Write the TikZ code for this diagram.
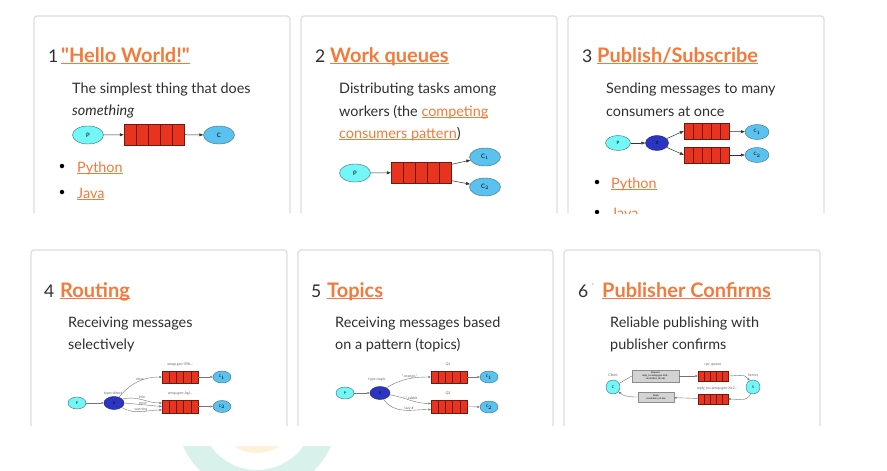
\documentclass[tikz,border=0pt]{standalone}
\usepackage{fontspec}
\setmainfont{Lato}
\usepackage{xcolor}
\definecolor{cText}{HTML}{2E2E2E}
\definecolor{cHead}{HTML}{F26B21}
\definecolor{cLink}{HTML}{F27A3A}
\definecolor{cCard}{HTML}{DDDDDD}
\definecolor{cQueue}{HTML}{E8341F}
\definecolor{cQueueLine}{HTML}{6E1A12}
\definecolor{cProd}{HTML}{72F6F6}
\definecolor{cCons}{HTML}{5BC2F0}
\definecolor{cExch}{HTML}{2B35C2}
\definecolor{cNodeLine}{HTML}{3A6E80}
\definecolor{cMsg}{HTML}{D3D3D3}
\definecolor{cWmTeal}{HTML}{D8F1EB}
\definecolor{cWmSun}{HTML}{FDF1D9}
\usepackage{tikz}
\usetikzlibrary{positioning,arrows.meta,shapes.geometric,calc}
% underlined link text, rule 2pt under the baseline
\newsavebox\lnkbox
\newcommand\lnk[1]{\textcolor{cLink}{\sbox\lnkbox{#1}\rlap{\rule[-2pt]{\wd\lnkbox}{1.2pt}}\usebox\lnkbox}}
\tikzset{
  card/.style={draw=cCard,line width=1.2pt,rounded corners=3pt},
  num/.style={anchor=base west,inner sep=0pt,text=cText,font=\fontsize{17.5}{20}\selectfont},
  head/.style={anchor=base west,inner sep=0pt,font=\fontsize{20}{24}\selectfont\bfseries},
  desc/.style={anchor=base west,inner sep=0pt,text=cText,font=\fontsize{14.4}{17}\selectfont},
  bul/.style={circle,fill=black,inner sep=0pt,minimum size=4.5pt},
  % tutorial diagrams: producer / consumer / exchange / queue
  prod/.style={ellipse,draw=cNodeLine,fill=cProd,inner sep=0pt},
  cons/.style={ellipse,draw=cNodeLine,fill=cCons,inner sep=0pt},
  exch/.style={ellipse,draw=cExch!60!black,fill=cExch,inner sep=0pt},
  oval-l/.style={minimum width=31,minimum height=18,font=\fontsize{6}{6}\selectfont},
  oval-m/.style={minimum width=25,minimum height=15,font=\fontsize{4.5}{5}\selectfont},
  oval-s/.style={minimum width=18,minimum height=12,font=\fontsize{3.5}{4}\selectfont},
  queue/.style={draw=cQueueLine,fill=cQueue,inner sep=0pt,path picture={
      \foreach \k in {0.2,0.4,0.6,0.8}
        \draw[cQueueLine] ($(path picture bounding box.south west)!\k!(path picture bounding box.south east)$)
          -- ($(path picture bounding box.north west)!\k!(path picture bounding box.north east)$);}},
  flow/.style={-{Triangle[length=4pt,width=3pt]},draw=black!80,line width=0.5pt},
  flow-s/.style={-{Triangle[length=2.5pt,width=2pt]},draw=black!55,line width=0.4pt},
  lbl/.style={inner sep=0.4pt,text=black!60,font=\fontsize{3.6}{4}\selectfont},
  msg/.style={draw=black!45,fill=cMsg,inner sep=0.8pt,align=center,font=\fontsize{2.4}{2.9}\selectfont},
}
\begin{document}
\begin{tikzpicture}[x=1pt,y=-1pt]
\useasboundingbox (0,0) rectangle (887,471);
\begin{scope}
  \clip (0,446) rectangle (887,471);
  \fill[cWmTeal,even odd rule] (257,413) circle[radius=81] (257,413) circle[radius=57];
  \fill[cWmSun] (257,413) circle[radius=40];
\end{scope}

\draw[card] (34,213) -- (34,16) -- (290,16) -- (290,213);
\draw[card] (301,213) -- (301,16) -- (557,16) -- (557,213);
\draw[card] (568,213) -- (568,16) -- (824,16) -- (824,213);
\draw[card] (31,426) -- (31,250) -- (287,250) -- (287,426);
\draw[card] (298,426) -- (298,250) -- (553,250) -- (553,426);
\draw[card] (564,426) -- (564,250) -- (820,250) -- (820,426);

\begin{scope}
  \clip (0,0) rectangle (887,213);
  \node[num] (n1) at (48,62) {1};
  \node[head] (h1) at (61,62) {\lnk{\textquotedbl Hello World!\textquotedbl}};
  \node[desc] (d11) at (72,93) {The simplest thing that does};
  \node[desc] (d12) at (72,115) {\textit{something}};
  \node[prod,oval-l] (p1) at (88,135) {P};
  \node[queue,minimum width=60,minimum height=21] (q1) at (154,134.5) {};
  \node[cons,oval-l] (c1) at (219,135) {C};
  \draw[flow] (p1) -- (q1);
  \draw[flow] (q1) -- (c1);
  \node[bul] (b11) at (62,166) {};
  \node[desc] (py1) at (77,172) {\lnk{Python}};
  \node[bul] (b12) at (62,192) {};
  \node[desc] (ja1) at (77,198) {\lnk{Java}};

  \node[num] (n2) at (315,62) {2};
  \node[head] (h2) at (330,62) {\lnk{Work queues}};
  \node[desc] (d21) at (339,93) {Distributing tasks among};
  \node[desc] (d22) at (339,116) {workers (the \lnk{competing}};
  \node[desc] (d23) at (339,138) {\lnk{consumers pattern})};
  \node[prod,oval-l] (p2) at (355,173) {P};
  \node[queue,minimum width=60,minimum height=21] (q2) at (421,172.5) {};
  \node[cons,oval-l] (c21) at (485,157) {C$_1$};
  \node[cons,oval-l] (c22) at (485,187) {C$_2$};
  \draw[flow] (p2) -- (q2);
  \draw[flow] (q2.15) -- (c21);
  \draw[flow] (q2.-15) -- (c22);

  \node[num] (n3) at (582,62) {3};
  \node[head] (h3) at (597,62) {\lnk{Publish/Subscribe}};
  \node[desc] (d31) at (606,93) {Sending messages to many};
  \node[desc] (d32) at (606,116) {consumers at once};
  \node[prod,oval-m] (p3) at (618,143) {P};
  \node[exch,oval-m,minimum width=23] (x3) at (657,143) {X};
  \node[queue,minimum width=45,minimum height=16] (q31) at (706.5,131) {};
  \node[queue,minimum width=45,minimum height=16] (q32) at (706.5,155) {};
  \node[cons,oval-m,minimum width=24] (c31) at (757,132) {C$_1$};
  \node[cons,oval-m,minimum width=24] (c32) at (757,155) {C$_2$};
  \draw[flow] (p3) -- (x3);
  \draw[flow] (x3) -- (q31.west);
  \draw[flow] (x3) -- (q32.west);
  \draw[flow] (q31) -- (c31);
  \draw[flow] (q32) -- (c32);
  \node[bul] (b31) at (597,182) {};
  \node[desc] (py3) at (611,188) {\lnk{Python}};
  \node[bul] (b32) at (597,212) {};
  \node[desc] (ja3) at (611,218) {\lnk{Java}};
\end{scope}

\node[num] (n4) at (44,297) {4};
\node[head] (h4) at (60,297) {\lnk{Routing}};
\node[desc] (d41) at (68,327) {Receiving messages};
\node[desc] (d42) at (68,349) {selectively};
\node[prod,oval-s] (p4) at (77,403) {P};
\node[exch,oval-s,minimum width=20,minimum height=13] (x4) at (114,403) {X};
\node[queue,minimum width=36,minimum height=12] (q41) at (180,377) {};
\node[queue,minimum width=36,minimum height=13] (q42) at (180,406.5) {};
\node[cons,oval-s] (c41) at (222,377) {C$_1$};
\node[cons,oval-s] (c42) at (222,406.5) {C$_2$};
\node[lbl] (l41) at (180,364) {amqp.gen-S9b...};
\node[lbl] (l42) at (180,393) {amqp.gen-Agl...};
\node[lbl] (l43) at (113,393) {type=direct};
\draw[flow-s] (p4) -- (x4);
\draw[flow-s] (x4.50) to[out=50,in=180] node[lbl,above,pos=0.55] {error} (q41.west);
\draw[flow-s] (x4.25) to[out=15,in=180] node[lbl,above,pos=0.5] {info} ([yshift=3.5pt]q42.west);
\draw[flow-s] (x4.east) -- node[lbl,above,pos=0.5] {error} (q42.west);
\draw[flow-s] (x4.-30) to[out=-30,in=180] node[lbl,above,pos=0.5] {warning} ([yshift=-3.5pt]q42.west);
\draw[flow-s] (q41) -- (c41);
\draw[flow-s] (q42) -- (c42);

\node[num] (n5) at (311,297) {5};
\node[head] (h5) at (327,297) {\lnk{Topics}};
\node[desc] (d51) at (335,327) {Receiving messages based};
\node[desc] (d52) at (335,349) {on a pattern (topics)};
\node[prod,oval-s] (p5) at (345,393) {P};
\node[exch,oval-s,minimum width=20,minimum height=13] (x5) at (380,393) {X};
\node[queue,minimum width=36,minimum height=12] (q51) at (449,377) {};
\node[queue,minimum width=36,minimum height=13] (q52) at (449,406.5) {};
\node[cons,oval-s] (c51) at (489,377) {C$_1$};
\node[cons,oval-s] (c52) at (489,407) {C$_2$};
\node[lbl] (l51) at (448,364) {Q1};
\node[lbl] (l52) at (448,393) {Q2};
\node[lbl] (l53) at (377,379) {type=topic};
\draw[flow-s] (p5) -- (x5);
\draw[flow-s] (x5.40) to[out=30,in=180] node[lbl,above,pos=0.55] {*.orange.*} (q51.west);
\draw[flow-s] (x5.-10) to[out=-10,in=180] node[lbl,above,pos=0.5] {*.*.rabbit} ([yshift=3pt]q52.west);
\draw[flow-s] (x5.-60) to[out=-55,in=180] node[lbl,above,pos=0.6] {lazy.\#} ([yshift=-3pt]q52.west);
\draw[flow-s] (q51) -- (c51);
\draw[flow-s] (q52) -- (c52);

\node[num] (n6) at (578,297) {6};
\node[num,text=black!45,font=\fontsize{8}{8}\selectfont] (t6) at (592,289) {'};
\node[head] (h6) at (602,297) {\lnk{Publisher Confirms}};
\node[desc] (d61) at (610,327) {Reliable publishing with};
\node[desc] (d62) at (610,349) {publisher confirms};
\node[prod,circle,minimum size=14,font=\fontsize{3.5}{4}\selectfont] (cl) at (613,387) {C};
\node[prod,circle,minimum size=14,font=\fontsize{3.5}{4}\selectfont] (srv) at (753,387) {S};
\node[lbl] (l61) at (613,375) {Client};
\node[lbl] (l62) at (753,375) {Server};
\node[msg,minimum width=47,minimum height=12] (req) at (655.5,376) {Request\\reply\_to=amqp.gen-Xa2...\\correlation\_id=abc};
\node[queue,minimum width=30,minimum height=10] (rpcq) at (713,376) {};
\node[queue,minimum width=30,minimum height=10] (repq) at (713,399) {};
\node[msg,minimum width=36,minimum height=10] (rep) at (656,397) {Reply\\correlation\_id=abc};
\node[lbl] (l63) at (713,365) {rpc\_queue};
\node[lbl] (l64) at (717,388) {reply\_to=amqp.gen-Xa2...};
\draw[draw=black!55,line width=0.4pt] (cl) -- (req.west);
\draw[flow-s] (req) -- (rpcq);
\draw[flow-s] (rpcq.east) to[out=0,in=120] (srv);
\draw[flow-s] (srv) to[out=-110,in=0] (repq.east);
\draw[flow-s] (repq) -- (rep);
\draw[flow-s] (rep.west) to[out=180,in=-40] (cl);
\end{tikzpicture}
\end{document}
